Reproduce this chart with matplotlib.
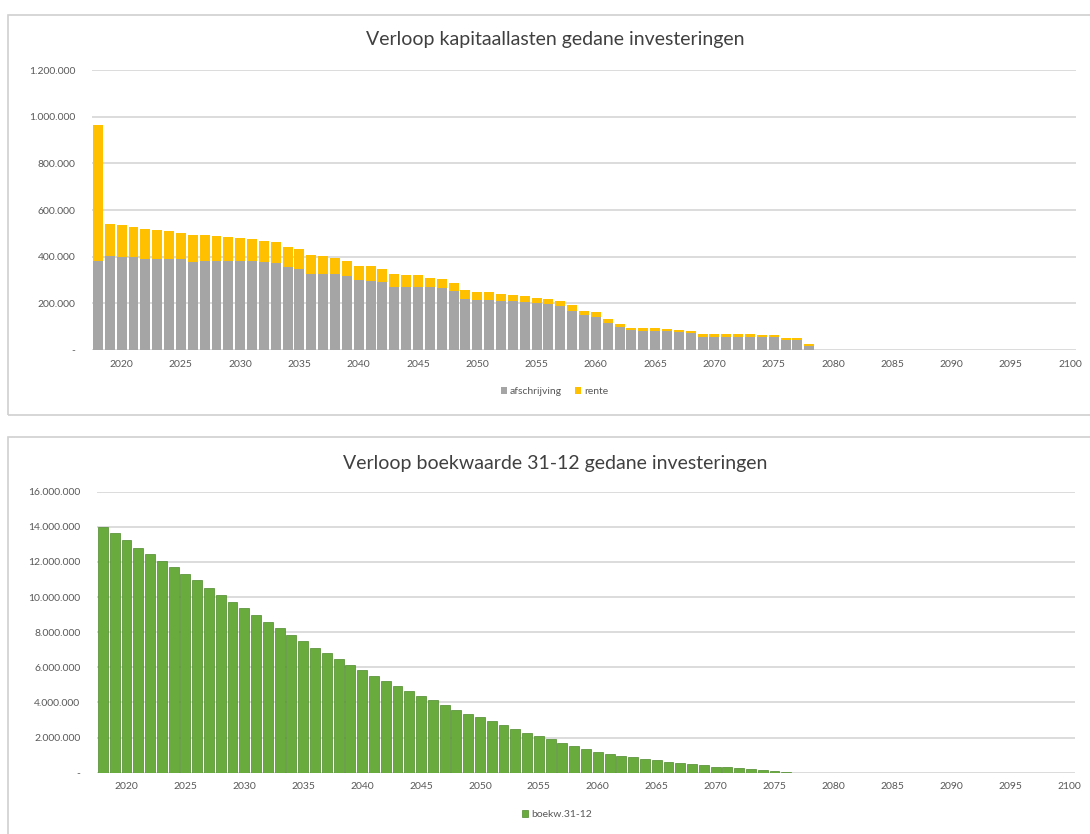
import numpy as np
import matplotlib
matplotlib.use("Agg")
import matplotlib.pyplot as plt
from matplotlib.patches import Rectangle
from matplotlib.ticker import FuncFormatter

# years on the category axis (2018 .. 2100)
years = list(range(2018, 2101))

# capital charges per year (euro), 2018 .. 2078
afschrijving = [
    380000, 403000, 400000, 397000, 392000, 389000, 388000, 390000, 378000, 383000,
    383000, 383000, 383000, 382000, 378000, 375000, 354000, 348000, 326000, 326000,
    324000, 318000, 301000, 295000, 290000, 272000, 272000, 272000, 269000, 267000,
    252000, 219000, 214000, 214000, 211000, 209000, 207000, 200000, 197000, 190000,
    168000, 149000, 143000, 114000, 97000, 85000, 83000, 83000, 82000, 79000,
    74000, 57000, 57000, 57000, 57000, 57000, 54000, 54000, 43000, 43000,
    19000,
]
totaal = [
    965000, 540000, 536000, 526000, 520000, 513000, 509000, 503000, 491000, 491000,
    488000, 483000, 479000, 474000, 469000, 464000, 440000, 432000, 407000, 403000,
    393000, 382000, 362000, 358000, 349000, 326000, 320000, 320000, 310000, 304000,
    286000, 257000, 248000, 248000, 241000, 237000, 233000, 224000, 220000, 210000,
    191000, 167000, 161000, 134000, 110000, 95000, 93000, 93000, 92000, 86000,
    81000, 67000, 67000, 67000, 67000, 67000, 63000, 63000, 50000, 50000,
    26000,
]
rente = [t - a for t, a in zip(totaal, afschrijving)]

# book value at 31-12 (euro), 2018 .. 2076
boekwaarde = [
    14000000, 13660000, 13240000, 12810000, 12430000, 12050000, 11690000, 11330000,
    10970000, 10530000, 10110000, 9730000, 9350000, 8980000, 8600000, 8220000,
    7820000, 7480000, 7120000, 6790000, 6470000, 6130000, 5830000, 5500000,
    5200000, 4930000, 4670000, 4350000, 4120000, 3830000, 3590000, 3320000,
    3170000, 2940000, 2690000, 2500000, 2260000, 2070000, 1900000, 1670000,
    1500000, 1370000, 1180000, 1060000, 960000, 880000, 780000, 700000,
    620000, 550000, 470000, 410000, 350000, 300000, 250000, 200000,
    150000, 100000, 40000,
]

x_labels = [str(y) for y in range(2020, 2101, 5)]

GRAY = "#A5A5A5"
YELLOW = "#FFC000"
GREEN = "#6AAB3E"
TEXT = "#595959"
GRID = "#D9D9D9"

plt.rcParams["font.family"] = ["Lato", "DejaVu Sans"]


def fmt_nl(v, pos=None):
    if v == 0:
        return "-"
    return f"{int(round(v)):,}".replace(",", ".")


def style_axes(ax, ymax, ystep):
    ax.set_xlim(years[0] - 0.5, years[-1] + 0.5)
    ax.set_ylim(0, ymax)
    ax.set_yticks(np.arange(0, ymax + 1, ystep))
    ax.yaxis.set_major_formatter(FuncFormatter(fmt_nl))
    ax.set_xticks(range(2020, 2101, 5))
    ax.set_xticklabels(x_labels)
    ax.grid(axis="y", color=GRID, linewidth=1.3)
    ax.set_axisbelow(True)
    for s in ax.spines.values():
        s.set_visible(False)
    ax.tick_params(length=0, labelsize=7.5, colors=TEXT, pad=7)
    ax.tick_params(axis="y", pad=12)


fig = plt.figure(figsize=(10.9, 8.34), dpi=100)

# chart borders
for (x0, y0, w, h) in [(8, 15, 1090, 400), (8, 437, 1090, 400)]:
    fig.patches.append(Rectangle((x0 / 1090, 1 - (y0 + h) / 834), w / 1090, h / 834,
                                 transform=fig.transFigure, fill=False,
                                 edgecolor="#D0D0D0", linewidth=1.2))

# --- capital charges ---
ax1 = fig.add_axes([92 / 1090, 1 - 350 / 834, 984 / 1090, 280 / 834])
yrs1 = years[:len(afschrijving)]
ax1.bar(yrs1, afschrijving, width=0.84, color=GRAY, label="afschrijving")
ax1.bar(yrs1, rente, width=0.84, bottom=afschrijving, color=YELLOW, label="rente")
style_axes(ax1, 1200000, 200000)
fig.text(555 / 1090, 1 - 40 / 834, "Verloop kapitaallasten gedane investeringen",
         fontsize=14, color="#404040", ha="center", va="center")
ax1.legend(loc="upper center", bbox_to_anchor=(0.47, -0.1), ncol=2, frameon=False,
           fontsize=7.5, labelcolor=TEXT, handlelength=0.6, handleheight=0.6,
           handletextpad=0.3, columnspacing=1.2)

# --- book value ---
ax2 = fig.add_axes([97 / 1090, 1 - 772.7 / 834, 978 / 1090, 281 / 834])
yrs2 = years[:len(boekwaarde)]
ax2.bar(yrs2, boekwaarde, width=0.84, color=GREEN, edgecolor="#4E8A2C",
        linewidth=0.5, label="boekw.31-12")
style_axes(ax2, 16000000, 2000000)
fig.text(555 / 1090, 1 - 463 / 834, "Verloop boekwaarde 31-12 gedane investeringen",
         fontsize=14, color="#404040", ha="center", va="center")
ax2.legend(loc="upper center", bbox_to_anchor=(0.47, -0.1), ncol=1, frameon=False,
           fontsize=7.5, labelcolor=TEXT, handlelength=0.6, handleheight=0.6,
           handletextpad=0.3)

fig.savefig("out.png", dpi=100, facecolor="white")
